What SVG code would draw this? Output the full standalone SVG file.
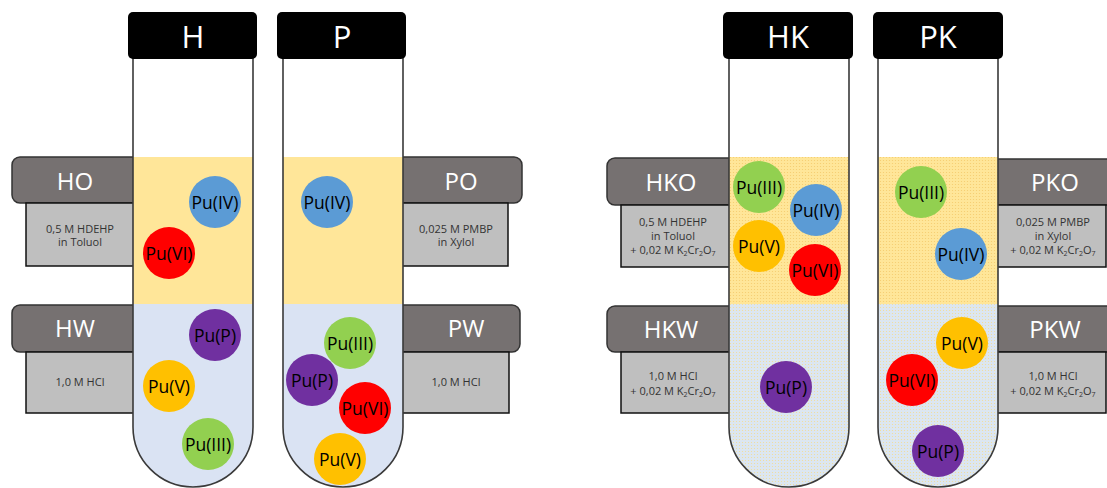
<svg xmlns="http://www.w3.org/2000/svg" width="1107" height="488" viewBox="0 0 1107 488">
<style>
.cap{fill:#000;}
.capt{font-family:"Open Sans","Liberation Sans",sans-serif;font-size:31px;fill:#fff;text-anchor:middle;}
.dark{fill:#767171;stroke:#333;stroke-width:1.5;}
.lite{fill:#BFBFBF;stroke:#111;stroke-width:1.5;}
.lbl{font-family:"Open Sans","Liberation Sans",sans-serif;font-size:24px;fill:#fff;text-anchor:middle;}
.sm{font-family:"Open Sans","Liberation Sans",sans-serif;font-size:11px;fill:#333;text-anchor:middle;}
.tube{fill:none;stroke:#3a3a3a;stroke-width:1.6;}
.ball text{font-family:"Open Sans","Liberation Sans",sans-serif;font-size:17.5px;fill:#000;text-anchor:middle;}
.b4{fill:#5B9BD5;}.b6{fill:#FF0000;}.b3{fill:#92D050;}.b5{fill:#FFC000;}.bp{fill:#7030A0;}
</style>
<defs>
<pattern id="dy" width="3" height="3" patternUnits="userSpaceOnUse">
<rect width="3" height="3" fill="#FFE699"/><circle cx="1.5" cy="1.5" r="0.6" fill="#F5CB6E"/>
</pattern>
<pattern id="db" width="3" height="3" patternUnits="userSpaceOnUse">
<rect width="3" height="3" fill="#DCE6F0"/><circle cx="1.5" cy="1.5" r="0.55" fill="#F3DC95"/>
</pattern>
<clipPath id="cH"><path d="M133,58 V427 A60,60 0 0 0 253,427 V58 Z"/></clipPath>
<clipPath id="cP"><path d="M283,58 V427 A60,60 0 0 0 403,427 V58 Z"/></clipPath>
<clipPath id="cHK"><path d="M729,58 V427 A60,60 0 0 0 849,427 V58 Z"/></clipPath>
<clipPath id="cPK"><path d="M878,58 V427 A60,60 0 0 0 998,427 V58 Z"/></clipPath>
</defs>
<rect width="1107" height="488" fill="#fff"/>

<g id="label-HO">
<rect class="dark" x="12" y="157" width="135" height="46" rx="8"/>
<rect class="lite" x="26" y="203" width="110" height="63"/>
<text class="lbl" x="75" y="190">HO</text>
<text class="sm" x="80" y="233">0,5 M HDEHP</text>
<text class="sm" x="80" y="246">in Toluol</text>
</g>
<g id="label-HW">
<rect class="dark" x="12" y="305" width="135" height="47" rx="8"/>
<rect class="lite" x="26" y="352" width="110" height="61"/>
<text class="lbl" x="75" y="337">HW</text>
<text class="sm" x="80" y="386">1,0 M HCl</text>
</g>
<g id="label-PO">
<rect class="dark" x="388" y="157" width="134" height="46" rx="8"/>
<rect class="lite" x="400" y="203" width="108" height="63"/>
<text class="lbl" x="461" y="190">PO</text>
<text class="sm" x="456" y="233">0,025 M PMBP</text>
<text class="sm" x="456" y="246">in Xylol</text>
</g>
<g id="label-PW">
<rect class="dark" x="388" y="305" width="132" height="47" rx="8"/>
<rect class="lite" x="400" y="352" width="109" height="61"/>
<text class="lbl" x="466" y="337">PW</text>
<text class="sm" x="456" y="386">1,0 M HCl</text>
</g>
<g id="label-HKO">
<rect class="dark" x="607" y="158" width="135" height="47" rx="8"/>
<rect class="lite" x="621" y="205" width="115" height="62"/>
<text class="lbl" x="671" y="191">HKO</text>
<text class="sm" x="673" y="226">0,5 M HDEHP</text>
<text class="sm" x="673" y="240">in Toluol</text>
<text class="sm" x="673" y="254">+ 0,02 M K<tspan font-size="7" dy="2">2</tspan><tspan dy="-2">Cr</tspan><tspan font-size="7" dy="2">2</tspan><tspan dy="-2">O</tspan><tspan font-size="7" dy="2">7</tspan></text>
</g>
<g id="label-HKW">
<rect class="dark" x="607" y="306" width="135" height="46" rx="8"/>
<rect class="lite" x="621" y="352" width="115" height="61"/>
<text class="lbl" x="671" y="338">HKW</text>
<text class="sm" x="673" y="380">1,0 M HCl</text>
<text class="sm" x="673" y="395">+ 0,02 M K<tspan font-size="7" dy="2">2</tspan><tspan dy="-2">Cr</tspan><tspan font-size="7" dy="2">2</tspan><tspan dy="-2">O</tspan><tspan font-size="7" dy="2">7</tspan></text>
</g>
<g id="label-PKO">
<rect class="dark" x="990" y="159" width="130" height="46"/>
<rect class="lite" x="990" y="205" width="116" height="62"/>
<text class="lbl" x="1055" y="191">PKO</text>
<text class="sm" x="1053" y="226">0,025 M PMBP</text>
<text class="sm" x="1053" y="240">in Xylol</text>
<text class="sm" x="1053" y="254">+ 0,02 M K<tspan font-size="7" dy="2">2</tspan><tspan dy="-2">Cr</tspan><tspan font-size="7" dy="2">2</tspan><tspan dy="-2">O</tspan><tspan font-size="7" dy="2">7</tspan></text>
</g>
<g id="label-PKW">
<rect class="dark" x="990" y="306" width="130" height="46"/>
<rect class="lite" x="990" y="352" width="116" height="61"/>
<text class="lbl" x="1055" y="338">PKW</text>
<text class="sm" x="1053" y="380">1,0 M HCl</text>
<text class="sm" x="1053" y="395">+ 0,02 M K<tspan font-size="7" dy="2">2</tspan><tspan dy="-2">Cr</tspan><tspan font-size="7" dy="2">2</tspan><tspan dy="-2">O</tspan><tspan font-size="7" dy="2">7</tspan></text>
</g>

<g id="tube-H">
<g clip-path="url(#cH)">
<rect x="130" y="50" width="130" height="440" fill="#fff"/>
<rect x="130" y="157" width="130" height="147" fill="#FFE699"/>
<rect x="130" y="304" width="130" height="190" fill="#DAE3F3"/>
</g>
<path class="tube" d="M133,58 V427 A60,60 0 0 0 253,427 V58"/>
<rect class="cap" x="128" y="12" width="129" height="47" rx="5"/>
<text class="capt" x="193" y="48">H</text>
</g>
<g id="tube-P">
<g clip-path="url(#cP)">
<rect x="280" y="50" width="130" height="440" fill="#fff"/>
<rect x="280" y="157" width="130" height="147" fill="#FFE699"/>
<rect x="280" y="304" width="130" height="190" fill="#DAE3F3"/>
</g>
<path class="tube" d="M283,58 V427 A60,60 0 0 0 403,427 V58"/>
<rect class="cap" x="277" y="12" width="129" height="47" rx="5"/>
<text class="capt" x="342" y="48">P</text>
</g>
<g id="tube-HK">
<g clip-path="url(#cHK)">
<rect x="725" y="50" width="130" height="440" fill="#fff"/>
<rect x="725" y="157" width="130" height="147" fill="url(#dy)"/>
<rect x="725" y="304" width="130" height="190" fill="url(#db)"/>
</g>
<path class="tube" d="M729,58 V427 A60,60 0 0 0 849,427 V58"/>
<rect class="cap" x="723" y="12" width="130" height="47" rx="5"/>
<text class="capt" x="788" y="48">HK</text>
</g>
<g id="tube-PK">
<g clip-path="url(#cPK)">
<rect x="875" y="50" width="130" height="440" fill="#fff"/>
<rect x="875" y="157" width="130" height="147" fill="url(#dy)"/>
<rect x="875" y="304" width="130" height="190" fill="url(#db)"/>
</g>
<path class="tube" d="M878,58 V427 A60,60 0 0 0 998,427 V58"/>
<rect class="cap" x="873" y="12" width="130" height="47" rx="5"/>
<text class="capt" x="938" y="48">PK</text>
</g>

<g id="balls-H" class="ball">
<circle class="b4" cx="215" cy="202" r="26"/><text x="215" y="208.5">Pu(IV)</text>
<circle class="b6" cx="169" cy="253" r="26"/><text x="169" y="259.5">Pu(VI)</text>
<circle class="bp" cx="215" cy="335" r="26"/><text x="215" y="341.5">Pu(P)</text>
<circle class="b5" cx="169" cy="386" r="26"/><text x="169" y="392.5">Pu(V)</text>
<circle class="b3" cx="208" cy="444" r="26"/><text x="208" y="450.5">Pu(III)</text>
</g>
<g id="balls-P" class="ball">
<circle class="b4" cx="327" cy="202" r="26"/><text x="327" y="208.5">Pu(IV)</text>
<circle class="b3" cx="350" cy="343" r="26"/><text x="350" y="349.5">Pu(III)</text>
<circle class="bp" cx="312" cy="380" r="26"/><text x="312" y="386.5">Pu(P)</text>
<circle class="b6" cx="365" cy="408" r="26"/><text x="365" y="414.5">Pu(VI)</text>
<circle class="b5" cx="340" cy="459" r="26"/><text x="340" y="465.5">Pu(V)</text>
</g>
<g id="balls-HK" class="ball">
<circle class="b3" cx="759" cy="187" r="26"/><text x="759" y="193.5">Pu(III)</text>
<circle class="b4" cx="816" cy="210" r="26"/><text x="816" y="216.5">Pu(IV)</text>
<circle class="b5" cx="759" cy="246" r="26"/><text x="759" y="252.5">Pu(V)</text>
<circle class="b6" cx="815" cy="270" r="26"/><text x="815" y="276.5">Pu(VI)</text>
<circle class="bp" cx="786" cy="387" r="26"/><text x="786" y="393.5">Pu(P)</text>
</g>
<g id="balls-PK" class="ball">
<circle class="b3" cx="921" cy="192" r="26"/><text x="921" y="198.5">Pu(III)</text>
<circle class="b4" cx="961" cy="254" r="26"/><text x="961" y="260.5">Pu(IV)</text>
<circle class="b5" cx="962" cy="343" r="26"/><text x="962" y="349.5">Pu(V)</text>
<circle class="b6" cx="912" cy="380" r="26"/><text x="912" y="386.5">Pu(VI)</text>
<circle class="bp" cx="938" cy="451" r="26"/><text x="938" y="457.5">Pu(P)</text>
</g>
<g id="connectors"></g>
</svg>
